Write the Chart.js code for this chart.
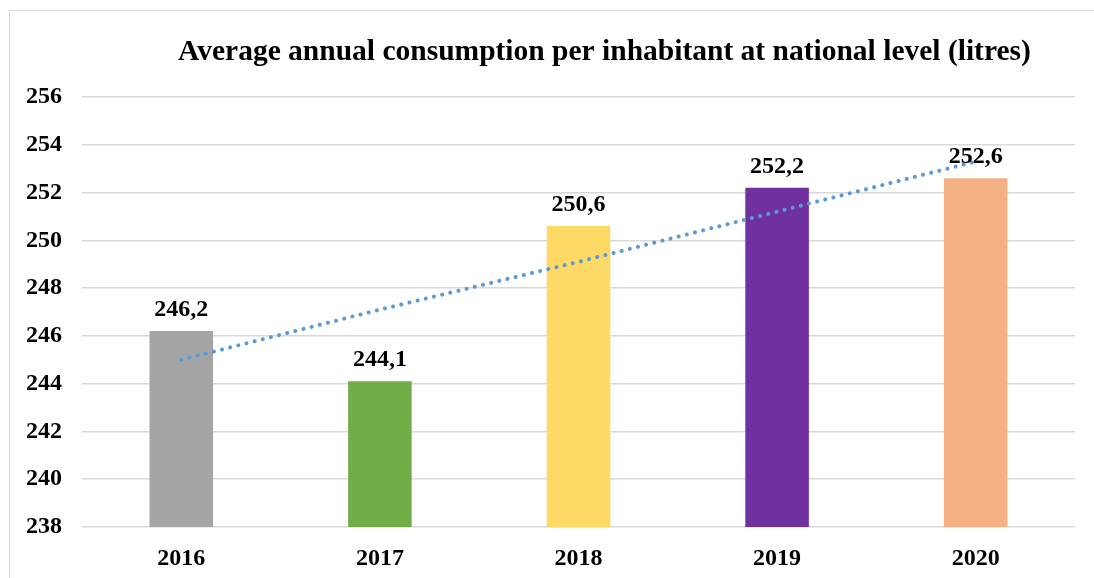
<!DOCTYPE html>
<html>
<head>
<meta charset="utf-8">
<script src="https://cdn.jsdelivr.net/npm/chart.js@4/dist/chart.umd.min.js"></script>
<style>
  body { margin: 0; background: #fff; }
  #frame { position: absolute; left: 9px; top: 10px; width: 1100px; height: 600px; border: 1px solid #d9d9d9; }
  #wrap { position: absolute; left: 0; top: 0; width: 1094px; height: 578px; }
</style>
</head>
<body>
<div id="frame"></div>
<div id="wrap"><canvas id="myChart"></canvas></div>
<script>
const years = ["2016", "2017", "2018", "2019", "2020"];
const consumption = [246.2, 244.1, 250.6, 252.2, 252.6];
const trendValues = [245.0, 247.1, 249.1, 251.2, 253.3];
const barColors = ["#a5a5a5", "#70ad47", "#ffd966", "#7030a0", "#f4b183"];
const chartTitle = "Average annual consumption per inhabitant at national level (litres)";

const serif = "'Liberation Serif', 'Times New Roman', serif";

// title drawn a little right of centre, like the original
const titlePlugin = {
    id: "offsetTitle",
    afterDraw(chart) {
        const c = chart.ctx;
        const area = chart.chartArea;
        c.save();
        c.font = "bold 29.5px " + serif;
        c.fillStyle = "#000";
        c.textAlign = "center";
        c.textBaseline = "alphabetic";
        c.fillText(chartTitle, (area.left + area.right) / 2 + 26, 60);
        c.restore();
    }
};

const valueLabels = {
    id: "valueLabels",
    afterDatasetsDraw(chart) {
        const c = chart.ctx;
        const meta = chart.getDatasetMeta(1);
        c.save();
        c.font = "bold 24px " + serif;
        c.fillStyle = "#000";
        c.textAlign = "center";
        c.textBaseline = "alphabetic";
        meta.data.forEach((bar, i) => {
            const txt = consumption[i].toFixed(1).replace(".", ",");
            c.fillText(txt, bar.x, bar.y - 15);
        });
        c.restore();
    }
};

const ctx = document.getElementById("myChart");
new Chart(ctx, {
    type: "bar",
    data: {
        labels: years,
        datasets: [
            {
                type: "line",
                data: trendValues,
                borderColor: "#5b9bd5",
                borderWidth: 4,
                borderDash: [0.1, 8.3],
                borderCapStyle: "round",
                pointRadius: 0,
                fill: false,
                tension: 0,
                order: 0
            },
            {
                data: consumption,
                backgroundColor: barColors,
                categoryPercentage: 1,
                barPercentage: 0.32,
                order: 1
            }
        ]
    },
    options: {
        responsive: true,
        maintainAspectRatio: false,
        animation: false,
        layout: { padding: { left: 27, right: 19, top: 97, bottom: 0 } },
        plugins: {
            legend: { display: false },
            title: { display: false },
            tooltip: { enabled: false }
        },
        scales: {
            x: {
                afterFit: (axis) => { axis.height = 51; },
                grid: { display: false },
                border: { display: false },
                ticks: {
                    color: "#000",
                    padding: 9,
                    font: { family: serif, size: 24, weight: "bold" }
                }
            },
            y: {
                min: 238,
                max: 256,
                afterFit: (axis) => { axis.width = 55; },
                grid: { color: "#d9d9d9", lineWidth: 1.5, drawTicks: false },
                border: { display: false },
                ticks: {
                    stepSize: 2,
                    color: "#000",
                    padding: 20,
                    font: { family: serif, size: 24, weight: "bold" }
                }
            }
        }
    },
    plugins: [titlePlugin, valueLabels]
});
</script>
</body>
</html>
